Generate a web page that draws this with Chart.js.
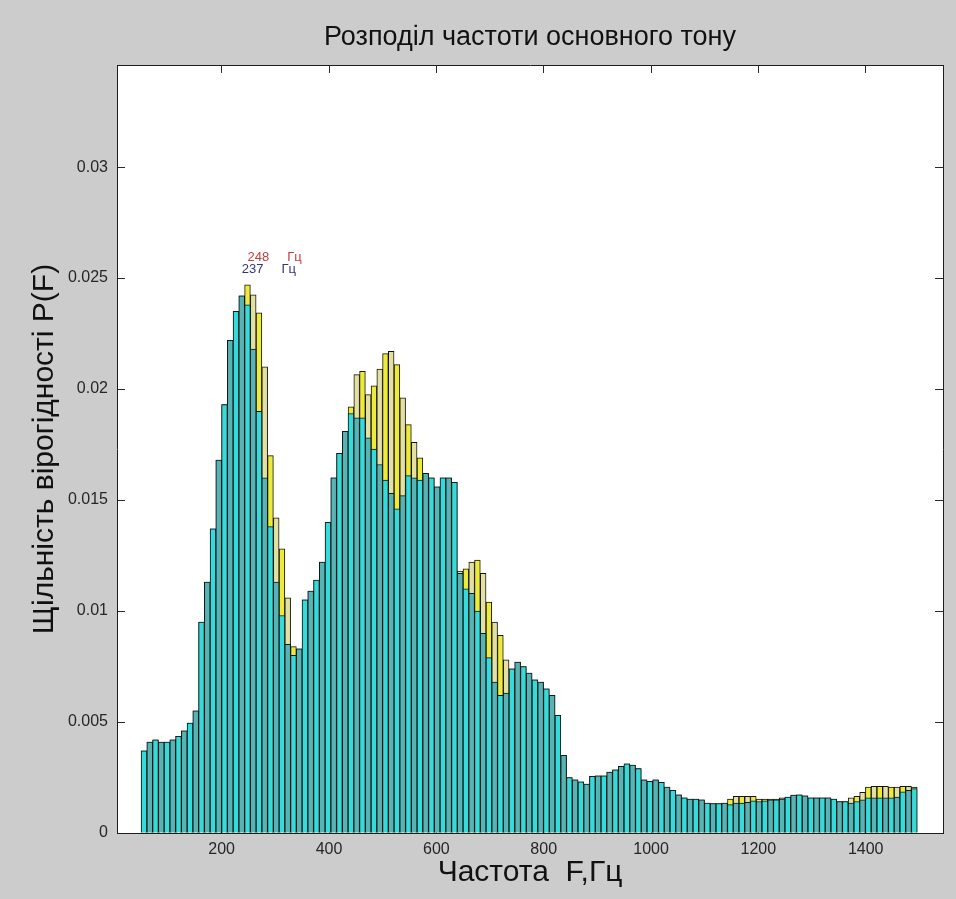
<!DOCTYPE html>
<html lang="uk">
<head>
<meta charset="utf-8">
<title>Розподіл частоти основного тону</title>
<script src="https://cdn.jsdelivr.net/npm/chart.js@4.4.1/dist/chart.umd.min.js"></script>
<style>
  html, body { margin: 0; padding: 0; background: #cccccc; }
  #wrap { width: 956px; height: 899px; }
</style>
</head>
<body>
<div id="wrap"><canvas id="pitch" width="956" height="899"></canvas></div>
<script>
// Histogram bins: lower edge of the first bin and bin width, Hz
const BIN_START = 50;
const BIN_WIDTH = 10.71;

// Probability density of the pitch per bin (front series, cyan)
const densityCyan = [
  0.0037, 0.0041, 0.0042, 0.0041, 0.0041, 0.0042, 0.00435, 0.0046, 0.00495, 0.0055,
  0.0095, 0.0113, 0.0137, 0.0168, 0.0193, 0.0222, 0.0235, 0.0242, 0.0238, 0.0218,
  0.0190, 0.0160, 0.0138, 0.0113, 0.0098, 0.0085, 0.0080, 0.0083, 0.0105, 0.0109,
  0.0114, 0.0122, 0.0140, 0.0160, 0.0171, 0.0181, 0.0189, 0.0187, 0.0187, 0.0178,
  0.0173, 0.0166, 0.0159, 0.0153, 0.0146, 0.0152, 0.0161, 0.0160, 0.0159, 0.0162,
  0.0160, 0.0156, 0.0160, 0.0160, 0.0158, 0.0117, 0.0110, 0.0108, 0.0100, 0.0090,
  0.0079, 0.0068, 0.0062, 0.0063, 0.0074, 0.0077, 0.0075, 0.0072, 0.0069, 0.0068,
  0.0065, 0.0062, 0.0053, 0.0035, 0.0025, 0.0024, 0.0023, 0.0022, 0.00255, 0.00257,
  0.00257, 0.00275, 0.00285, 0.0030, 0.00312, 0.00306, 0.0029, 0.0024, 0.00233, 0.0024,
  0.00228, 0.00207, 0.00192, 0.00172, 0.00158, 0.00153, 0.00153, 0.0015, 0.00135, 0.00133,
  0.00133, 0.00135, 0.00128, 0.00135, 0.00135, 0.00138, 0.00145, 0.00142, 0.00145, 0.0015,
  0.0015, 0.00153, 0.00162, 0.00171, 0.00172, 0.00168, 0.00158, 0.00158, 0.00158, 0.00158,
  0.00153, 0.00142, 0.00142, 0.00135, 0.00142, 0.0015, 0.00158, 0.00158, 0.00158, 0.00158,
  0.00158, 0.00162, 0.00185, 0.00192, 0.0020
];

// Probability density of the pitch per bin (back series, yellow)
const densityYellow = [
  0.0037, 0.0041, 0.0042, 0.0041, 0.0041, 0.0042, 0.00435, 0.0046, 0.00495, 0.0055,
  0.0095, 0.0113, 0.0137, 0.0168, 0.0193, 0.0222, 0.0235, 0.0242, 0.0247, 0.02425,
  0.02344, 0.0210, 0.0170, 0.0142, 0.0128, 0.0106, 0.0084, 0.0083, 0.0105, 0.0109,
  0.0114, 0.0122, 0.0140, 0.0160, 0.0171, 0.0181, 0.0192, 0.02065, 0.0208, 0.01975,
  0.02015, 0.0209, 0.0216, 0.0217, 0.0211, 0.0196, 0.0184, 0.0176, 0.0169, 0.0162,
  0.0160, 0.0156, 0.0160, 0.0160, 0.0158, 0.0118, 0.0119, 0.0122, 0.0123, 0.0117,
  0.0104, 0.0095, 0.0089, 0.0078, 0.0074, 0.0077, 0.0075, 0.0072, 0.0069, 0.0068,
  0.0065, 0.0062, 0.0053, 0.0035, 0.0025, 0.0024, 0.0023, 0.0022, 0.00255, 0.00257,
  0.00257, 0.00275, 0.00285, 0.0030, 0.00312, 0.00306, 0.0029, 0.0024, 0.00233, 0.0024,
  0.00228, 0.00207, 0.00192, 0.00172, 0.00158, 0.00153, 0.00153, 0.0015, 0.00135, 0.00133,
  0.00133, 0.00135, 0.00153, 0.00165, 0.00165, 0.00165, 0.00165, 0.00153, 0.00153, 0.00153,
  0.00153, 0.00158, 0.00162, 0.00171, 0.00172, 0.00168, 0.00158, 0.00158, 0.00158, 0.00158,
  0.00153, 0.00142, 0.00142, 0.00158, 0.00165, 0.00183, 0.00207, 0.0021, 0.0021, 0.0021,
  0.00207, 0.00207, 0.0021, 0.0021, 0.00207
];

const xTicks = [200, 400, 600, 800, 1000, 1200, 1400];
const yTicks = [0, 0.005, 0.01, 0.015, 0.02, 0.025, 0.03];
const yTickLabels = ['0', '0.005', '0.01', '0.015', '0.02', '0.025', '0.03'];
const X_RANGE = [5, 1544];
const Y_RANGE = [0, 0.0346];

const TITLE = 'Розподіл частоти основного тону';
const X_TITLE = 'Частота  F,Гц';
const Y_TITLE = 'Щільність вірогідності P(F)';
const UNIT = 'Гц';

const FONT = "'Liberation Sans', Arial, Helvetica, sans-serif";
Chart.defaults.font.family = FONT;

// bin centres of the histogram
const binCentres = densityCyan.map((_, k) => BIN_START + BIN_WIDTH * (k + 0.5));

function peakOf(values) {
  let best = 0;
  values.forEach((v, i) => { if (v > values[best]) best = i; });
  return { freq: binCentres[best], value: values[best] };
}

// annotated maxima: back series first so the front label sits on top
const peakMarks = [
  Object.assign(peakOf(densityYellow), { color: '#c83c3c', lift: 0.00105 }),
  Object.assign(peakOf(densityCyan), { color: '#34347c', lift: 0.00103 })
];

const plotBackground = {
  id: 'plotBackground',
  beforeDraw(chart) {
    const { ctx, chartArea: a } = chart;
    ctx.save();
    ctx.fillStyle = '#ffffff';
    ctx.fillRect(a.left, a.top, a.right - a.left, a.bottom - a.top);
    ctx.restore();
  }
};

const peakLabels = {
  id: 'peakLabels',
  afterDatasetsDraw(chart) {
    const { ctx, scales: { x, y } } = chart;
    ctx.save();
    ctx.font = '13px ' + FONT;
    ctx.textAlign = 'left';
    ctx.textBaseline = 'alphabetic';
    peakMarks.forEach(m => {
      ctx.fillStyle = m.color;
      ctx.fillText(Math.round(m.freq) + '     ' + UNIT,
        x.getPixelForValue(m.freq), y.getPixelForValue(m.value + m.lift));
    });
    ctx.restore();
  }
};

function toPoints(values) {
  return values.map((v, i) => ({ x: binCentres[i], y: v }));
}

const axisGrid = { drawOnChartArea: false, drawTicks: true, tickLength: -8, color: '#2a2a2a', lineWidth: 1, offset: false };
const axisBorder = { display: true, color: '#1e1e1e', width: 1 };
const setXTicks = s => { s.ticks = xTicks.map(v => ({ value: v })); };
const setYTicks = s => { s.ticks = yTicks.map(v => ({ value: v })); };

new Chart(document.getElementById('pitch'), {
  type: 'bar',
  data: {
    datasets: [
      {
        label: 'cyan',
        data: toPoints(densityCyan),
        backgroundColor: c => (c.dataIndex % 2 ? '#58b4b4' : '#36dada'),
        borderColor: '#0c1a1a',
        borderWidth: 1,
        grouped: false,
        order: 0,
        barPercentage: 1,
        categoryPercentage: 1
      },
      {
        label: 'yellow',
        data: toPoints(densityYellow),
        backgroundColor: c => (c.dataIndex % 2 ? '#e4e0a4' : '#eeea3a'),
        borderColor: '#141408',
        borderWidth: 1,
        grouped: false,
        order: 1,
        barPercentage: 1,
        categoryPercentage: 1
      }
    ]
  },
  options: {
    responsive: false,
    animation: false,
    devicePixelRatio: 1,
    layout: { padding: { left: 0, right: 13, top: 0, bottom: 0 } },
    plugins: {
      legend: { display: false },
      tooltip: { enabled: false },
      title: {
        display: true,
        text: TITLE,
        fullSize: false,
        color: '#111111',
        font: { size: 27, weight: 'normal' },
        padding: { top: 21.8, bottom: 10.8 }
      }
    },
    scales: {
      x: {
        type: 'linear', position: 'bottom', bounds: 'data',
        min: X_RANGE[0], max: X_RANGE[1], offset: false,
        afterBuildTicks: setXTicks,
        afterFit: s => { s.height = 66; },
        ticks: { color: '#262626', font: { size: 16 }, padding: 15, maxRotation: 0, autoSkip: false,
                 callback: v => String(v) },
        grid: axisGrid, border: axisBorder,
        title: { display: true, text: X_TITLE, color: '#111111', font: { size: 30 }, padding: { top: 0, bottom: 8 } }
      },
      xTop: {
        type: 'linear', position: 'top', bounds: 'data',
        min: X_RANGE[0], max: X_RANGE[1], offset: false,
        afterBuildTicks: setXTicks,
        afterFit: s => { s.height = 0; },
        ticks: { display: false },
        grid: axisGrid, border: axisBorder
      },
      y: {
        type: 'linear', position: 'left', bounds: 'data',
        min: Y_RANGE[0], max: Y_RANGE[1],
        afterBuildTicks: setYTicks,
        afterFit: s => { s.width = 117; },
        ticks: { color: '#262626', font: { size: 16 }, padding: 17, autoSkip: false,
                 callback: (v, i) => yTickLabels[i] },
        grid: axisGrid, border: axisBorder,
        title: { display: true, text: Y_TITLE, color: '#111111', font: { size: 30 }, padding: { top: 27, bottom: 0 } }
      },
      yRight: {
        type: 'linear', position: 'right', bounds: 'data',
        min: Y_RANGE[0], max: Y_RANGE[1],
        afterBuildTicks: setYTicks,
        afterFit: s => { s.width = 0; },
        ticks: { display: false },
        grid: axisGrid, border: axisBorder
      }
    }
  },
  plugins: [plotBackground, peakLabels]
});
</script>
</body>
</html>
